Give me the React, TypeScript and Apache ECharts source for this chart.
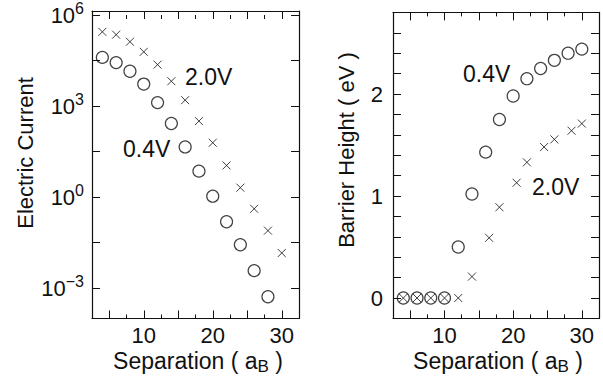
import React, { useEffect, useRef } from 'react';
import * as echarts from 'echarts';

const FONT = '"Liberation Sans", Arial, Helvetica, sans-serif';
const INK = '#111';

// Separation (a_B)
const separation04 = [4, 6, 8, 10, 12, 14, 16, 18, 20, 22, 24, 26, 28];
const separation20 = [4, 6, 8, 10, 12, 14, 16, 18, 20, 22, 24, 26, 28, 30];
// Electric current (log scale)
const current04V = [3.1e4, 2.1e4, 1.1e4, 4.2e3, 1.05e3, 219, 38, 6.2, 0.95, 0.14, 0.025, 0.0036, 5.1e-4];
const current20V = [2.1e5, 1.7e5, 1.0e5, 4.7e4, 1.8e4, 5.2e3, 1.26e3, 263, 52, 9.5, 1.8, 0.37, 0.072, 0.0135];
// Barrier height (eV)
const barrierSep04 = [4, 6, 8, 10, 12, 14, 16, 18, 20, 22, 24, 26, 28, 30];
const barrier04V = [0, 0, 0, 0, 0.5, 1.02, 1.43, 1.75, 1.98, 2.15, 2.25, 2.33, 2.4, 2.44];
const barrierSep20 = [4, 6, 8, 10, 12, 14, 16.5, 18, 20.5, 22, 24.5, 26, 28.5, 30];
const barrier20V = [0, 0, 0, 0, 0, 0.21, 0.59, 0.89, 1.13, 1.33, 1.48, 1.555, 1.64, 1.71];

// Ticks and tick labels
const xMajorTicks = [5, 10, 15, 20, 25, 30];
const xMinorTicks = [7.5, 12.5, 17.5, 22.5, 27.5];
const xTickLabels = [10, 20, 30];
const currentExpTicks = [-3, -1.5, 0, 1.5, 3, 4.5, 6];
const currentExpLabels = [-3, 0, 3, 6];
const barrierTicks = [0, 0.2, 0.4, 0.6, 0.8, 1, 1.2, 1.4, 1.6, 1.8, 2, 2.2, 2.4, 2.6];
const barrierLabels = [0, 1, 2];

const CROSS = 'path://M0,0L10,10M0,10L10,0';

const leftRect = { left: 92, top: 11, width: 207, height: 307.5 };
const rightRect = { left: 393, top: 12.4, width: 206, height: 306 };

const lineStyle = { color: INK, width: 1.2 };

function xAxisDef(gridIndex: number, position: string, ticks: number[], len: number, labels: number[] | null, showLine: boolean) {
  return {
    type: 'value',
    gridIndex,
    position,
    min: 2.5,
    max: 32.5,
    axisLine: { show: showLine, onZero: false, lineStyle },
    axisTick: { show: true, inside: true, length: len, customValues: ticks, lineStyle: { color: INK, width: 1 } },
    axisLabel: labels
      ? { show: true, customValues: labels, margin: 7, color: INK, fontSize: 22, lineHeight: 20, fontFamily: FONT }
      : { show: false },
    splitLine: { show: false },
  };
}

function zip(xs: number[], ys: number[]) {
  return ys.map((y, i) => [xs[i], y]);
}

const circleStyle = { color: 'none', borderColor: INK, borderWidth: 1.2 };
const crossStyle = { color: 'none', borderColor: INK, borderWidth: 1 };

export default function App() {
  const ref = useRef<HTMLDivElement>(null);
  useEffect(() => {
    if (!ref.current) return;
    const chart = echarts.init(ref.current, null, { renderer: 'svg' });
    const expLabel = (v: number) => {
      const n = Math.round(v);
      return `{b|10}{s|${n < 0 ? '\u2212' + -n : n}}`;
    };
    const expRich = {
      b: { fontSize: 22, fontFamily: FONT, color: INK, lineHeight: 30 },
      s: { fontSize: 16, fontFamily: FONT, color: INK, lineHeight: 12, verticalAlign: 'top' },
    };
    const titleRich = {
      n: { fontSize: 23, fontFamily: FONT, fill: INK, color: INK, lineHeight: 29 },
      s: { fontSize: 17, fontFamily: FONT, fill: INK, color: INK, lineHeight: 14, verticalAlign: 'bottom' },
    };
    const txt = (text: string, x: number, y: number, align = 'left', size = 23, rotation = 0) => ({
      type: 'text',
      x,
      y,
      rotation,
      silent: true,
      style: {
        text,
        fill: INK,
        font: `${size}px ${FONT}`,
        textAlign: align,
        textVerticalAlign: 'middle',
      },
    });
    chart.setOption({
      animation: false,
      backgroundColor: '#fff',
      grid: [
        { ...leftRect },
        { ...leftRect },
        { ...rightRect },
        { ...rightRect },
      ],
      xAxis: [
        xAxisDef(0, 'bottom', xMajorTicks, 8, xTickLabels, true),
        xAxisDef(0, 'top', xMajorTicks, 8, null, true),
        xAxisDef(1, 'bottom', xMinorTicks, 4, null, false),
        xAxisDef(1, 'top', xMinorTicks, 4, null, false),
        xAxisDef(2, 'bottom', xMajorTicks, 8, xTickLabels, true),
        xAxisDef(2, 'top', xMajorTicks, 8, null, true),
        xAxisDef(3, 'bottom', xMinorTicks, 4, null, false),
        xAxisDef(3, 'top', xMinorTicks, 4, null, false),
      ],
      yAxis: [
        {
          type: 'log', gridIndex: 0, position: 'left', min: 1e-4, max: 1e6, logBase: 10,
          axisLine: { show: true, lineStyle }, axisTick: { show: false }, axisLabel: { show: false }, splitLine: { show: false },
        },
        {
          type: 'log', gridIndex: 0, position: 'right', min: 1e-4, max: 1e6, logBase: 10,
          axisLine: { show: true, lineStyle }, axisTick: { show: false }, axisLabel: { show: false }, splitLine: { show: false },
        },
        {
          type: 'value', gridIndex: 1, position: 'left', min: -4, max: 6,
          axisLine: { show: false },
          axisTick: { show: true, inside: true, length: 8, customValues: currentExpTicks, lineStyle: { color: INK, width: 1 } },
          axisLabel: { show: true, customValues: currentExpLabels, margin: 8, formatter: expLabel, rich: expRich },
          splitLine: { show: false },
        },
        {
          type: 'value', gridIndex: 1, position: 'right', min: -4, max: 6,
          axisLine: { show: false },
          axisTick: { show: true, inside: true, length: 8, customValues: currentExpTicks, lineStyle: { color: INK, width: 1 } },
          axisLabel: { show: false },
          splitLine: { show: false },
        },
        {
          type: 'value', gridIndex: 2, position: 'left', min: -0.2, max: 2.8,
          axisLine: { show: true, onZero: false, lineStyle },
          axisTick: { show: true, inside: true, length: 8, customValues: barrierTicks, lineStyle: { color: INK, width: 1 } },
          axisLabel: { show: true, customValues: barrierLabels, margin: 10, color: INK, fontSize: 22, fontFamily: FONT },
          splitLine: { show: false },
        },
        {
          type: 'value', gridIndex: 2, position: 'right', min: -0.2, max: 2.8,
          axisLine: { show: true, onZero: false, lineStyle },
          axisTick: { show: true, inside: true, length: 8, customValues: barrierTicks, lineStyle: { color: INK, width: 1 } },
          axisLabel: { show: false },
          splitLine: { show: false },
        },
        { type: 'value', gridIndex: 3, show: false, min: -0.2, max: 2.8 },
        { type: 'value', gridIndex: 3, show: false, position: 'right', min: -0.2, max: 2.8 },
      ],
      series: [
        {
          type: 'scatter', name: '0.4V current', xAxisIndex: 0, yAxisIndex: 0,
          data: zip(separation04, current04V), symbol: 'circle', symbolSize: 12, itemStyle: circleStyle, silent: true,
        },
        {
          type: 'scatter', name: '2.0V current', xAxisIndex: 0, yAxisIndex: 0,
          data: zip(separation20, current20V), symbol: CROSS, symbolSize: 8, itemStyle: crossStyle, silent: true,
        },
        {
          type: 'scatter', name: '0.4V barrier', xAxisIndex: 4, yAxisIndex: 4,
          data: zip(barrierSep04, barrier04V), symbol: 'circle', symbolSize: 12, itemStyle: circleStyle, silent: true,
        },
        {
          type: 'scatter', name: '2.0V barrier', xAxisIndex: 4, yAxisIndex: 4,
          data: zip(barrierSep20, barrier20V), symbol: CROSS, symbolSize: 8, itemStyle: crossStyle, silent: true,
        },
      ],
      graphic: [
        txt('Electric Current', 25.5, 153, 'center', 22, Math.PI / 2),
        txt('Barrier Height ( eV )', 346, 150, 'center', 22, Math.PI / 2),
        {
          type: 'text', x: 198, y: 360.5, silent: true,
          style: { text: '{n|Separation ( a}{s|B}{n| )}', rich: titleRich, fill: INK, font: `23px ${FONT}`, textAlign: 'center', textVerticalAlign: 'middle' },
        },
        {
          type: 'text', x: 498, y: 360.5, silent: true,
          style: { text: '{n|Separation ( a}{s|B}{n| )}', rich: titleRich, fill: INK, font: `23px ${FONT}`, textAlign: 'center', textVerticalAlign: 'middle' },
        },
        txt('2.0V', 185, 77),
        txt('0.4V', 123, 149),
        txt('0.4V', 463, 74),
        txt('2.0V', 532, 187),
      ],
    });
    return () => chart.dispose();
  }, []);
  return <div ref={ref} style={{ position: 'fixed', left: 0, top: 0, width: 603, height: 383 }} />;
}
